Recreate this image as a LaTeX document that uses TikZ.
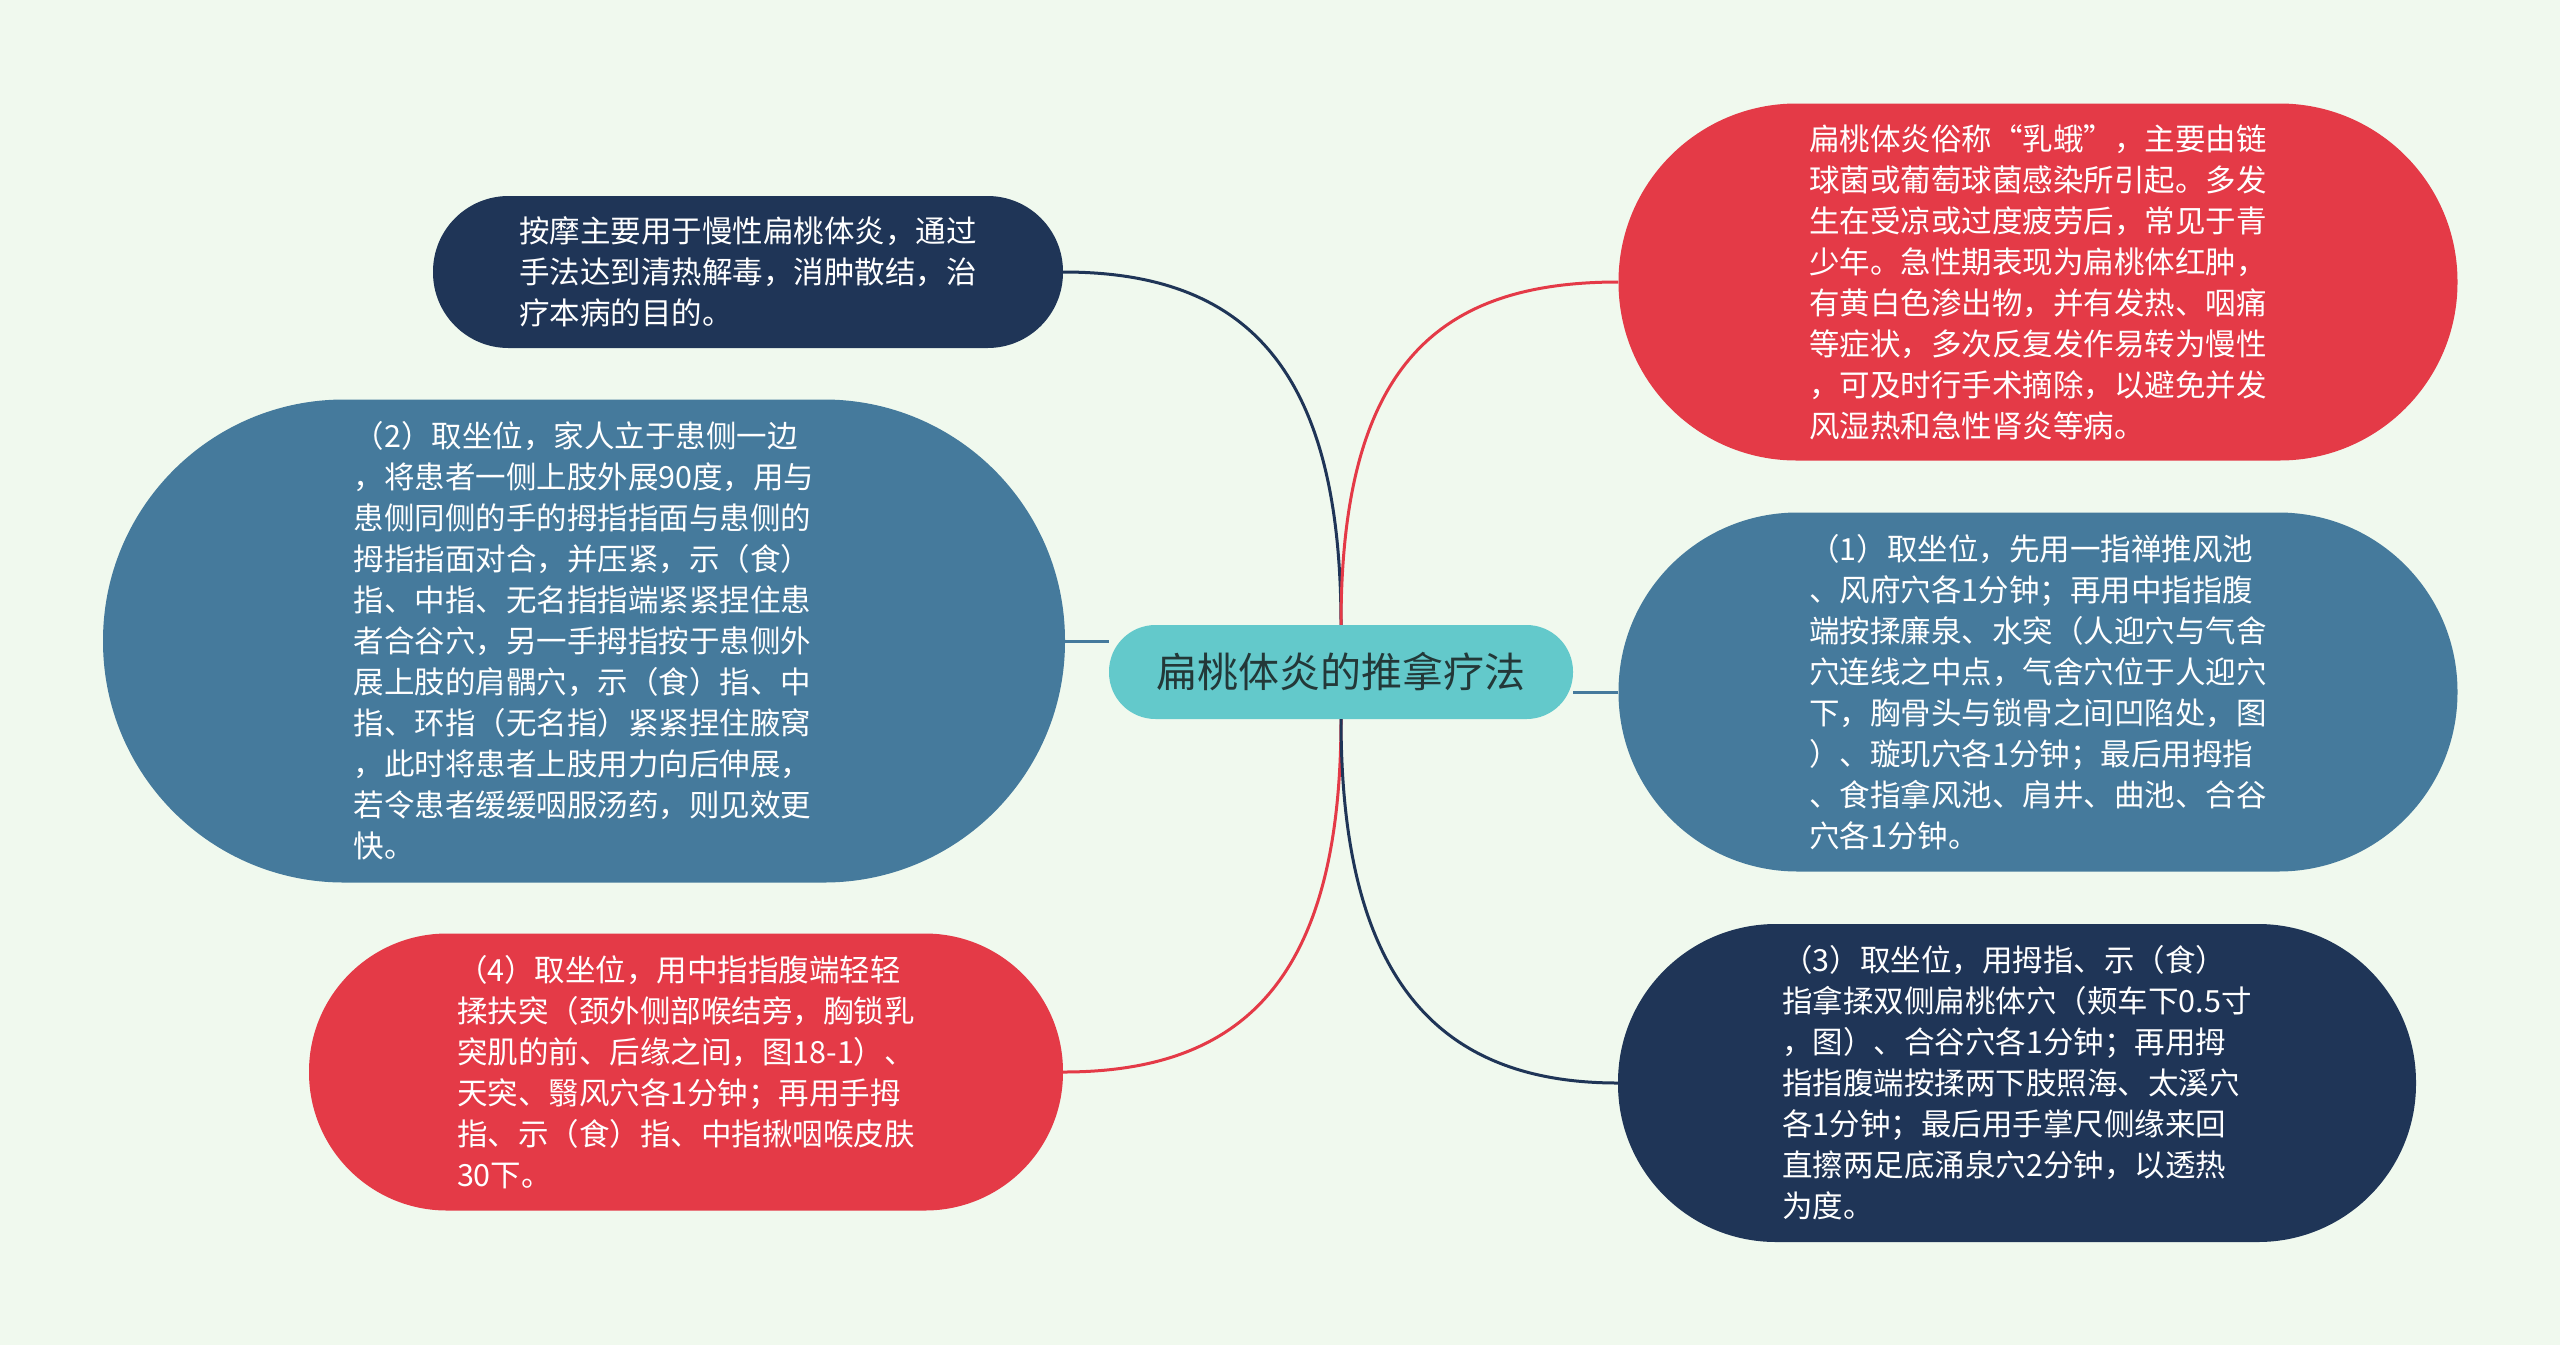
\documentclass[tikz,border=0pt]{standalone}
\usepackage{fontspec}
\setmainfont{Noto Sans CJK SC}
\usetikzlibrary{calc}
\definecolor{bgc}{HTML}{F0F9EE}
\definecolor{navy}{HTML}{1F3557}
\definecolor{steel}{HTML}{457A9C}
\definecolor{redc}{HTML}{E43A47}
\definecolor{teal}{HTML}{63C9CB}
\definecolor{ctext}{HTML}{233838}
\tikzset{
  box/.style={rectangle, inner sep=0pt, text=white, align=left,
    font=\fontsize{30.5}{41}\selectfont},
  centerbox/.style={rectangle, inner sep=0pt, fill=teal, text=ctext,
    font=\fontsize{41}{48}\selectfont},
  link/.style={line width=3pt}
}
\begin{document}
\begin{tikzpicture}[x=1pt,y=-1pt]
\fill[bgc] (0,0) rectangle (2560,1345);
\useasboundingbox (0,0) rectangle (2560,1345);

\node[centerbox, minimum width=464pt, minimum height=94pt, rounded corners=46.5pt] (c) at (1341,672) {扁桃体炎的推拿疗法};

\node[box, fill=navy, minimum width=630pt, minimum height=152pt, rounded corners=75.5pt] (tl) at (748,272) {按摩主要用于慢性扁桃体炎，通过\\手法达到清热解毒，消肿散结，治\\疗本病的目的。};

\node[box, fill=steel, minimum width=962pt, minimum height=483pt, rounded corners=241pt] (lb) at (584,641) {（2）取坐位，家人立于患侧一边\\，将患者一侧上肢外展90度，用与\\患侧同侧的手的拇指指面与患侧的\\拇指指面对合，并压紧，示（食）\\指、中指、无名指指端紧紧捏住患\\者合谷穴，另一手拇指按于患侧外\\展上肢的肩髃穴，示（食）指、中\\指、环指（无名指）紧紧捏住腋窝\\，此时将患者上肢用力向后伸展，\\若令患者缓缓咽服汤药，则见效更\\快。};

\node[box, fill=redc, minimum width=754pt, minimum height=277pt, rounded corners=138pt] (bl) at (686,1072) {（4）取坐位，用中指指腹端轻轻\\揉扶突（颈外侧部喉结旁，胸锁乳\\突肌的前、后缘之间，图18-1）、\\天突、翳风穴各1分钟；再用手拇\\指、示（食）指、中指揪咽喉皮肤\\30下。};

\node[box, fill=redc, minimum width=839pt, minimum height=357pt, rounded corners=178pt] (rt) at (2038,282) {扁桃体炎俗称“乳蛾”，主要由链\\球菌或葡萄球菌感染所引起。多发\\生在受凉或过度疲劳后，常见于青\\少年。急性期表现为扁桃体红肿，\\有黄白色渗出物，并有发热、咽痛\\等症状，多次反复发作易转为慢性\\，可及时行手术摘除，以避免并发\\风湿热和急性肾炎等病。};

\node[box, fill=steel, minimum width=839pt, minimum height=359pt, rounded corners=179pt] (rm) at (2038,692) {（1）取坐位，先用一指禅推风池\\、风府穴各1分钟；再用中指指腹\\端按揉廉泉、水突（人迎穴与气舍\\穴连线之中点，气舍穴位于人迎穴\\下，胸骨头与锁骨之间凹陷处，图\\）、璇玑穴各1分钟；最后用拇指\\、食指拿风池、肩井、曲池、合谷\\穴各1分钟。};

\node[box, fill=navy, minimum width=798pt, minimum height=318pt, rounded corners=158pt] (rb) at (2017,1083) {（3）取坐位，用拇指、示（食）\\指拿揉双侧扁桃体穴（颊车下0.5寸\\，图）、合谷穴各1分钟；再用拇\\指指腹端按揉两下肢照海、太溪穴\\各1分钟；最后用手掌尺侧缘来回\\直擦两足底涌泉穴2分钟，以透热\\为度。};

\draw[link, navy] (tl.east) .. controls ($(tl.east)+(180,0)$) and ($(c.north)+(0,-260)$) .. (c.north);
\draw[link, redc] (c.north) .. controls ($(c.north)+(0,-260)$) and ($(rt.west)+(-180,0)$) .. (rt.west);
\draw[link, redc] (c.south) .. controls ($(c.south)+(0,260)$) and ($(bl.east)+(180,0)$) .. (bl.east);
\draw[link, navy] (c.south) .. controls ($(c.south)+(0,260)$) and ($(rb.west)+(-180,0)$) .. (rb.west);
\draw[link, steel] (lb.east) -- (lb.east -| c.west);
\draw[link, steel] (rm.west) -- (rm.west -| c.east);
\end{tikzpicture}
\end{document}
